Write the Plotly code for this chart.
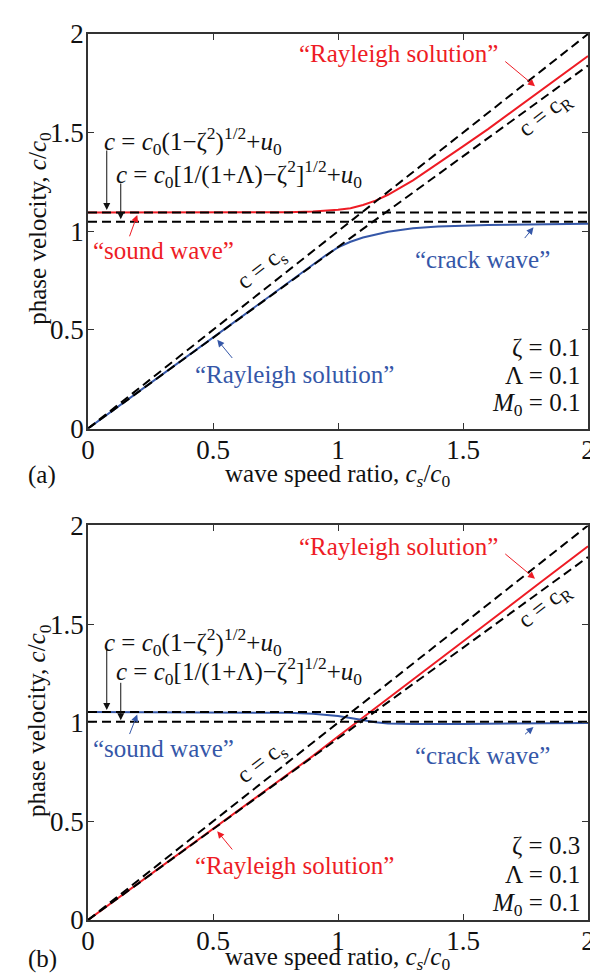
import plotly.graph_objects as go

# ---------------- data ----------------
tick_vals = [0, 0.5, 1, 1.5, 2]
tick_labels = ["0", "0.5", "1", "1.5", "2"]

# reference lines
line_x = [0, 2]
cs_line_y = [0, 2.0]        # c = c_s
cr_line_y = [0, 1.84]       # c = c_R
top_sound_level = 1.095     # c = c0(1-z^2)^1/2 + u0  (zeta = 0.1)
top_crack_level = 1.048     # c = c0[1/(1+L)-z^2]^1/2 + u0
bot_sound_level = 1.054     # (zeta = 0.3)
bot_crack_level = 1.005

# panel (a) curves
a_red_x = [0, 0.3, 0.6, 0.8, 0.9, 0.95, 1.0, 1.05, 1.1, 1.15, 1.2, 1.3, 1.4, 1.5, 1.6, 1.8, 2.0]
a_red_y = [1.095, 1.095, 1.095, 1.097, 1.100, 1.104, 1.109, 1.117, 1.133, 1.155, 1.185, 1.258, 1.343, 1.430, 1.518, 1.702, 1.888]
a_blue_x = [0, 0.2, 0.4, 0.6, 0.7, 0.75, 0.8, 0.85, 0.9, 0.95, 1.0, 1.05, 1.1, 1.2, 1.3, 1.4, 1.6, 1.8, 2.0]
a_blue_y = [0, 0.184, 0.368, 0.552, 0.644, 0.690, 0.738, 0.785, 0.832, 0.877, 0.918, 0.947, 0.968, 0.998, 1.015, 1.024, 1.032, 1.036, 1.038]

# panel (b) curves
b_red_x = [0, 0.2, 0.4, 0.6, 0.8, 0.9, 1.0, 1.05, 1.1, 1.2, 1.4, 1.6, 1.8, 2.0]
b_red_y = [0, 0.184, 0.368, 0.552, 0.738, 0.832, 0.930, 0.978, 1.025, 1.120, 1.315, 1.508, 1.702, 1.895]
b_blue_x = [0, 0.5, 0.8, 0.9, 0.95, 1.0, 1.05, 1.1, 1.15, 1.2, 1.3, 1.5, 1.7, 2.0]
b_blue_y = [1.054, 1.053, 1.050, 1.046, 1.041, 1.034, 1.024, 1.012, 1.002, 0.996, 0.993, 0.994, 0.997, 0.999]

zeta_a, zeta_b, lam, mach = "0.1", "0.3", "0.1", "0.1"

# ---------------- style ----------------
RED = "#ee1c25"
BLUE = "#3557a8"
FONT = "Liberation Serif"
TICK_SIZE = 27
TXT_SIZE = 25
DASH = "9px,5px"

fig = go.Figure()


def add_panel(xa, ya, red_x, red_y, blue_x, blue_y, sound, crack):
    fig.add_trace(go.Scatter(x=red_x, y=red_y, mode="lines", line=dict(color=RED, width=2),
                             xaxis=xa, yaxis=ya, showlegend=False, hoverinfo="skip"))
    fig.add_trace(go.Scatter(x=blue_x, y=blue_y, mode="lines", line=dict(color=BLUE, width=2),
                             xaxis=xa, yaxis=ya, showlegend=False, hoverinfo="skip"))
    for yy in (cs_line_y, cr_line_y, [sound, sound], [crack, crack]):
        fig.add_trace(go.Scatter(x=line_x, y=yy, mode="lines",
                                 line=dict(color="black", width=2, dash=DASH),
                                 xaxis=xa, yaxis=ya, showlegend=False, hoverinfo="skip"))


add_panel("x", "y", a_red_x, a_red_y, a_blue_x, a_blue_y, top_sound_level, top_crack_level)
add_panel("x2", "y2", b_red_x, b_red_y, b_blue_x, b_blue_y, bot_sound_level, bot_crack_level)

axis_common = dict(range=[0, 2], tickvals=tick_vals, ticktext=tick_labels, ticks="inside",
                   ticklen=6, tickcolor="#333", tickwidth=1.2, showline=True, linecolor="#333",
                   linewidth=1.5, mirror="ticks", showgrid=False, zeroline=False,
                   tickfont=dict(family=FONT, size=TICK_SIZE, color="#111"))
yaxis_extra = dict(ticklabelstandoff=-3)
xaxis_extra = dict(ticklabelstandoff=-4)

fig.update_layout(
    width=598, height=973,
    margin=dict(l=80, r=11, t=16, b=61),
    paper_bgcolor="white", plot_bgcolor="white",
    xaxis=dict(domain=[0, 1], anchor="y", **axis_common, **xaxis_extra),
    yaxis=dict(domain=[0.5547, 1], anchor="x", **axis_common, **yaxis_extra),
    xaxis2=dict(domain=[0, 1], anchor="y2", **axis_common, **xaxis_extra),
    yaxis2=dict(domain=[0, 0.4453], anchor="x2", **axis_common, **yaxis_extra),
)

ann = []


def txt(text, x, y, xr, yr, color="#111", size=TXT_SIZE, xanchor="center", angle=0):
    ann.append(dict(text=text, x=x, y=y, xref=xr, yref=yr, showarrow=False, xanchor=xanchor,
                    yanchor="middle", textangle=angle, font=dict(family=FONT, size=size, color=color)))


def arrow(tx, ty, fx, fy, xr, yr, color="#111"):
    ann.append(dict(text="", x=tx, y=ty, ax=fx, ay=fy, xref=xr, yref=yr, axref=xr, ayref=yr,
                    showarrow=True, arrowhead=2, arrowsize=1.4, arrowwidth=1, arrowcolor=color,
                    standoff=0, startstandoff=0))


formula1 = "<i>c</i> = <i>c</i><sub>0</sub>(1−ζ<sup>2</sup>)<sup>1/2</sup>+<i>u</i><sub>0</sub>"
formula2 = "<i>c</i> = <i>c</i><sub>0</sub>[1/(1+Λ)−ζ<sup>2</sup>]<sup>1/2</sup>+<i>u</i><sub>0</sub>"

panels = [
    ("x", "y", RED, BLUE, zeta_a, [1.46, 1.29], [1.417, 1.108, 1.25, 1.061], [0.41, 0.27, 0.12], 1.90, 0.5022, 0.781),
    ("x2", "y2", BLUE, RED, zeta_b, [1.41, 1.26], [1.377, 1.064, 1.21, 1.013], [0.38, 0.23, 0.08], 1.895, -0.0435, 0.2254),
]

for i, (xr, yr, sound_col, low_col, zeta, fy, ar, py, rtop, xt_y, yt_y) in enumerate(panels):
    # formulas and arrows
    txt(formula1, 0.055, fy[0], xr, yr, xanchor="left")
    txt(formula2, 0.103, fy[1], xr, yr, xanchor="left")
    arrow(0.075, ar[1], 0.075, ar[0], xr, yr)
    arrow(0.131, ar[3], 0.131, ar[2], xr, yr)
    # upper red "Rayleigh solution"
    txt("“Rayleigh solution”", 1.243, rtop, xr, yr, color=RED)
    arrow(1.788, rtop - 0.165, 1.663, rtop - 0.033, xr, yr, color=RED)
    # sound wave
    sw_y = 0.90 if i == 0 else 0.868
    txt("“sound wave”", 0.30, sw_y, xr, yr, color=sound_col)
    arrow(0.197, (top_sound_level if i == 0 else bot_sound_level) - 0.012, 0.164, sw_y + 0.067, xr, yr, color=sound_col)
    # crack wave
    cw_y = 0.858 if i == 0 else 0.835
    txt("“crack wave”", 1.578, cw_y, xr, yr, color=BLUE)
    arrow(1.782, (1.02 if i == 0 else 0.978), 1.742, cw_y + 0.1, xr, yr, color=BLUE)
    # lower Rayleigh solution
    txt("“Rayleigh solution”", 0.824, 0.275, xr, yr, color=low_col)
    arrow(0.517, 0.45, 0.582, 0.35, xr, yr, color=low_col)
    # line labels
    txt("c = c<sub>s</sub>", 0.695, 0.81 if i == 0 else 0.796, xr, yr, size=24, angle=-38)
    txt("c = c<sub>R</sub>", 1.83, 1.59, xr, yr, size=24, angle=-38)
    # parameters
    txt("ζ = " + zeta, 1.975, py[0], xr, yr, xanchor="right")
    txt("Λ = " + lam, 1.975, py[1], xr, yr, xanchor="right")
    txt("<i>M</i><sub>0</sub> = " + mach, 1.975, py[2], xr, yr, xanchor="right")
    # axis titles
    ann.append(dict(text="wave speed ratio, <i>c<sub>s</sub></i>/<i>c</i><sub>0</sub>", x=0.499, y=xt_y,
                    xref="paper", yref="paper", showarrow=False, xanchor="center", yanchor="middle",
                    font=dict(family=FONT, size=TXT_SIZE, color="#111")))
    ann.append(dict(text="phase velocity, <i>c</i>/<i>c</i><sub>0</sub>", x=-0.0986, y=yt_y,
                    xref="paper", yref="paper", showarrow=False, xanchor="center", yanchor="middle",
                    textangle=-90, font=dict(family=FONT, size=TXT_SIZE, color="#111")))
    ann.append(dict(text="(a)" if i == 0 else "(b)", x=-0.092, y=xt_y, xref="paper", yref="paper",
                    showarrow=False, xanchor="center", yanchor="middle",
                    font=dict(family=FONT, size=TXT_SIZE, color="#111")))

fig.update_layout(annotations=ann)
fig.write_html("out.html")
